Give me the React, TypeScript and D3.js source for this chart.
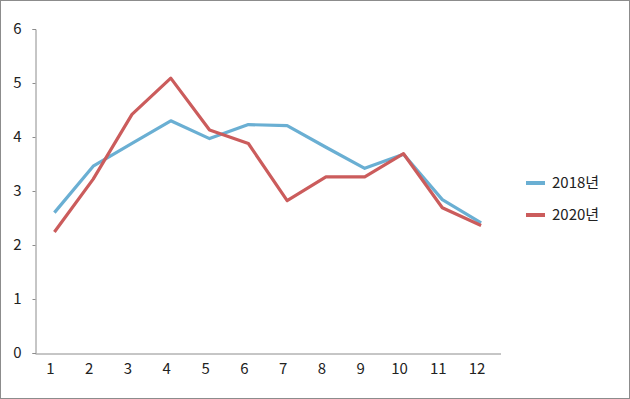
import React, { useRef, useEffect } from 'react';
import * as d3 from 'd3';

const months = ['1', '2', '3', '4', '5', '6', '7', '8', '9', '10', '11', '12'];
const series2018 = [2.6, 3.46, 3.88, 4.3, 3.97, 4.23, 4.21, 3.81, 3.42, 3.68, 2.84, 2.41];
const series2020 = [2.24, 3.22, 4.42, 5.09, 4.13, 3.88, 2.82, 3.26, 3.26, 3.69, 2.69, 2.36];
const seriesNames = ['2018년', '2020년'];
const colors = ['#6aafd3', '#cb5c5c'];
const yTicks = [0, 1, 2, 3, 4, 5, 6];

const W = 630;
const H = 399;
const margin = { top: 29, left: 35, right: 130, bottom: 46 };

const App = () => {
  const ref = useRef<SVGSVGElement | null>(null);

  useEffect(() => {
    if (!ref.current) return;
    const svg = d3.select(ref.current);
    svg.selectAll('*').remove();
    const font = '"Noto Sans CJK KR", "Liberation Sans", sans-serif';

    svg
      .append('rect')
      .attr('x', 0.5)
      .attr('y', 0.5)
      .attr('width', W - 1)
      .attr('height', H - 1)
      .attr('fill', '#fff')
      .attr('stroke', '#8c8c8c');

    const x = d3
      .scaleBand()
      .domain(months)
      .range([margin.left, 500.5]);
    const y = d3
      .scaleLinear()
      .domain([0, 6])
      .range([H - margin.bottom, margin.top]);

    // y axis
    const yAxis = d3
      .axisLeft(y)
      .tickValues(yTicks)
      .tickSize(3)
      .tickPadding(11)
      .tickFormat(d3.format('d'));
    const gy = svg
      .append('g')
      .attr('transform', `translate(${margin.left + 0.5},0)`)
      .call(yAxis);
    gy.select('.domain').attr('stroke', '#8c8c8c');
    gy.selectAll('.tick line').attr('stroke', '#8c8c8c');
    gy.selectAll('.tick text')
      .attr('font-family', font)
      .attr('font-size', 15)
      .attr('fill', '#222');

    // x axis
    const xAxis = d3.axisBottom(x).tickSize(0).tickPadding(10);
    const gx = svg
      .append('g')
      .attr('transform', `translate(0,${H - margin.bottom + 0.5})`)
      .call(xAxis);
    gx.select('.domain').attr('stroke', '#8c8c8c');
    gx.selectAll('.tick text')
      .attr('font-family', font)
      .attr('font-size', 15)
      .attr('dx', -4)
      .attr('fill', '#222');

    const line = d3
      .line<number>()
      .x((_, i) => (x(months[i]) ?? 0) + x.bandwidth() / 2)
      .y((d) => y(d));

    [series2018, series2020].forEach((s, i) => {
      svg
        .append('path')
        .datum(s)
        .attr('fill', 'none')
        .attr('stroke', colors[i])
        .attr('stroke-width', 3.2)
        .attr('stroke-linejoin', 'round')
        .attr('d', line);
    });

    // legend
    const legend = svg
      .selectAll('.legend')
      .data(seriesNames)
      .join('g')
      .attr('class', 'legend')
      .attr('transform', (_, i) => `translate(526,${183 + i * 32})`);
    legend
      .append('line')
      .attr('x1', 0)
      .attr('x2', 19)
      .attr('stroke', (_, i) => colors[i])
      .attr('stroke-width', 4);
    legend
      .append('text')
      .attr('x', 26)
      .attr('dy', '0.35em')
      .attr('font-family', font)
      .attr('font-size', 15)
      .attr('fill', '#222')
      .text((d) => d);
  }, []);

  return (
    <svg
      ref={ref}
      width={W}
      height={H}
      style={{ position: 'absolute', left: 0, top: 0 }}
    />
  );
};

export default App;
